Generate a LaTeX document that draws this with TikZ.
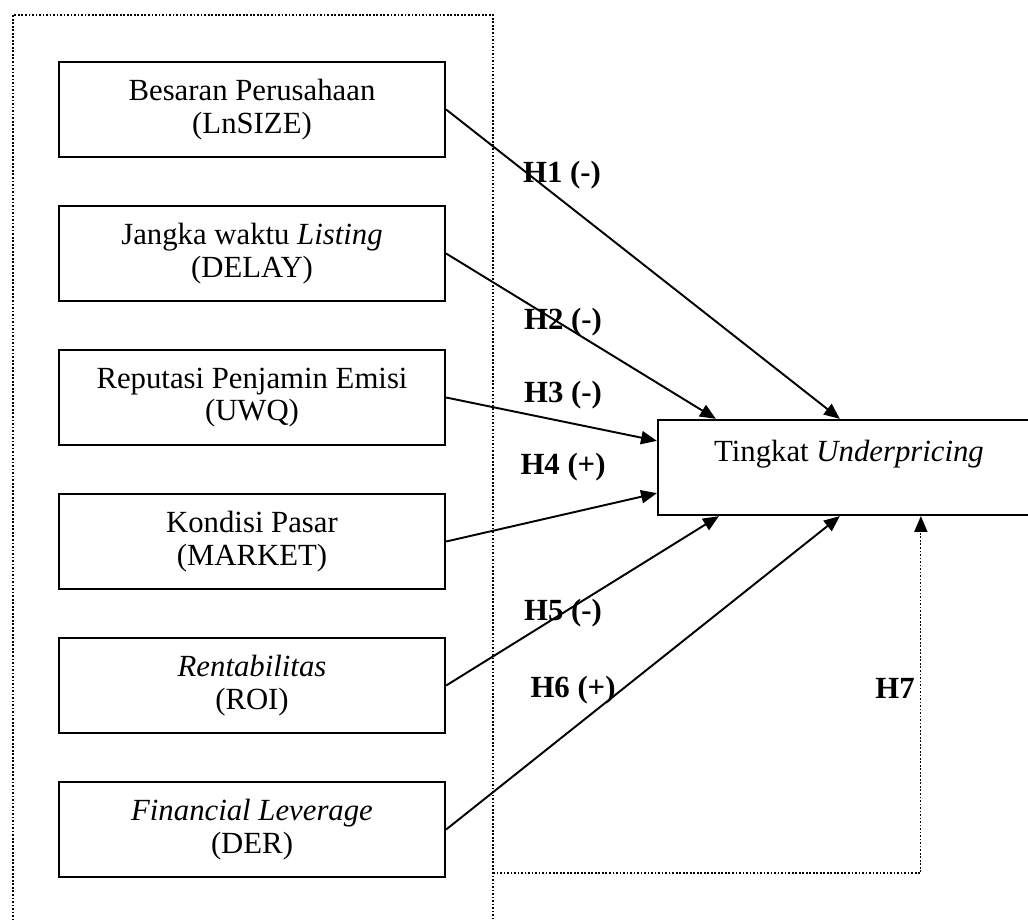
\documentclass[tikz,border=0pt]{standalone}
\usepackage{fontspec}
\setmainfont{Liberation Serif}
\usetikzlibrary{arrows.meta, positioning}

\begin{document}
\begin{tikzpicture}[
    >={Triangle[length=9pt, width=7.5pt]},
    line width=1.1pt,
    font=\fontsize{17.5}{18.5}\selectfont,
    varbox/.style={draw, line width=1.3pt, minimum width=7.72cm, minimum height=1.9cm, align=center, inner sep=0pt},
    hyplabel/.style={font=\fontsize{17.5}{18.5}\selectfont\bfseries, inner sep=1pt},
    thindots/.style={line width=0.7pt, dash pattern=on 1pt off 1pt}
]
    \useasboundingbox (0,0) rectangle (20.56,-18.38);

    % Independent variables group (left, dotted)
    \node[draw, thindots, minimum width=9.6cm, minimum height=18.4cm, inner sep=0pt] (grp) at (5.06,-9.5) {};

    % Variables
    \node[varbox] (size) at (5.04,-2.19) {Besaran Perusahaan\\(LnSIZE)};
    \node[varbox] (delay) at (5.04,-5.07) {Jangka waktu \textit{Listing}\\(DELAY)};
    \node[varbox] (uwq) at (5.04,-7.95) {Reputasi Penjamin Emisi\\(UWQ)};
    \node[varbox] (market) at (5.04,-10.83) {Kondisi Pasar\\(MARKET)};
    \node[varbox] (roi) at (5.04,-13.71) {\textit{Rentabilitas}\\(ROI)};
    \node[varbox] (der) at (5.04,-16.59) {\textit{Financial Leverage}\\(DER)};

    % Dependent variable (cut at the right edge)
    \node[varbox, minimum width=7.64cm] (under) at (16.98,-9.35) {Tingkat \textit{Underpricing}\\~};

    % Hypotheses
    \draw[->] (size.east) -- ([xshift=3.66cm]under.north west);
    \draw[->] (delay.east) -- ([xshift=1.18cm]under.north west);
    \draw[->] (uwq.east) -- ([yshift=-0.44cm]under.north west);
    \draw[->] (market.east) -- ([yshift=0.46cm]under.south west);
    \draw[->] (roi.east) -- ([xshift=1.24cm]under.south west);
    \draw[->] (der.east) -- ([xshift=3.66cm]under.south west);

    % H7: joint effect
    \coordinate (jointstart) at (9.86,-17.46);
    \draw[->, thindots] (jointstart) -| ([xshift=5.28cm]under.south west);

    % Labels
    \node[hyplabel] (lh1) at (11.24,-3.50) {H1 (-)};
    \node[hyplabel] (lh2) at (11.26,-6.44) {H2 (-)};
    \node[hyplabel] (lh3) at (11.26,-7.90) {H3 (-)};
    \node[hyplabel] (lh4) at (11.26,-9.34) {H4 (+)};
    \node[hyplabel] (lh5) at (11.26,-12.26) {H5 (-)};
    \node[hyplabel] (lh6) at (11.46,-13.80) {H6 (+)};
    \node[hyplabel] (lh7) at (17.90,-13.76) {H7};

\end{tikzpicture}
\end{document}
